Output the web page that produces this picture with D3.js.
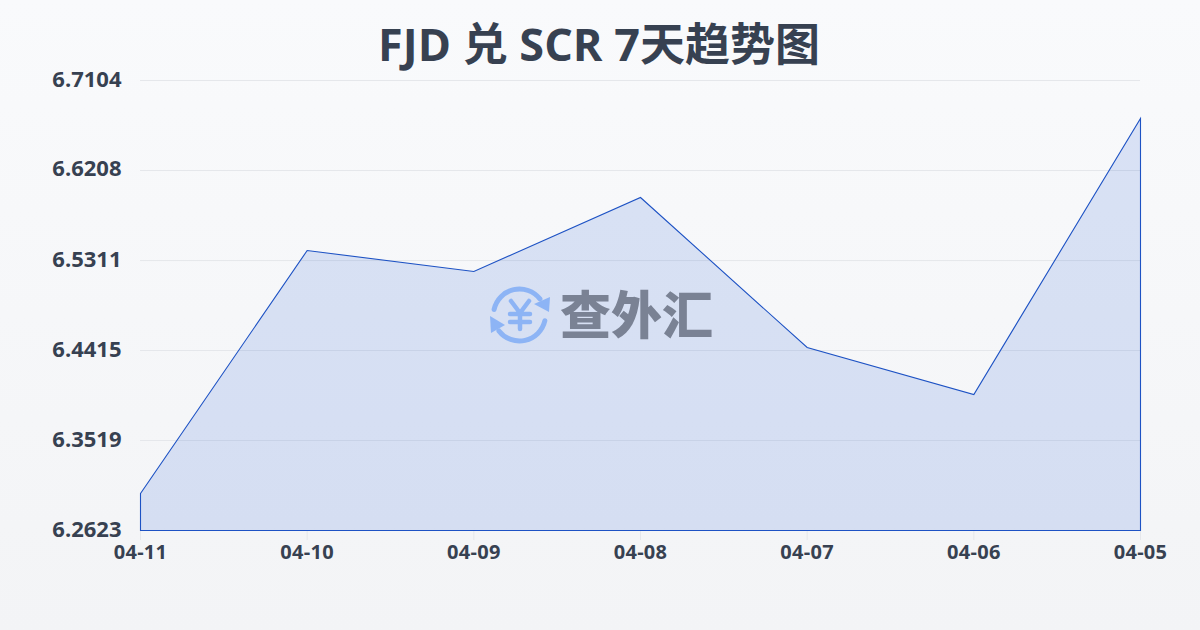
<!DOCTYPE html>
<html><head><meta charset="utf-8">
<script src="https://cdnjs.cloudflare.com/ajax/libs/d3/7.8.5/d3.min.js"></script>
<style>html,body{margin:0;padding:0;background:#f9fafb}svg{display:block}
text{font-family:"Open Sans","Noto Sans CJK SC",sans-serif}</style></head>
<body><div id="c"></div>
<script>
const titleText="FJD 兑 SCR 7天趋势图";
const dates=["04-11","04-10","04-09","04-08","04-07","04-06","04-05"];
const values=[6.2991,6.5411,6.5202,6.5939,6.4445,6.3977,6.6726];
const yTicks=[6.2623,6.3519,6.4415,6.5311,6.6208,6.7104];
const W=1200,H=630;
const svg=d3.select("#c").append("svg").attr("width",W).attr("height",H);
const defs=svg.append("defs");
const bg=defs.append("linearGradient").attr("id","bg").attr("x1",0).attr("y1",0).attr("x2",0).attr("y2",1);
bg.append("stop").attr("offset",0).attr("stop-color","#f9fafc");
bg.append("stop").attr("offset",1).attr("stop-color","#f3f4f6");
svg.append("rect").attr("width",W).attr("height",H).attr("fill","url(#bg)");
const x=d3.scalePoint().domain(dates).range([140.5,1140.5]);
const y=d3.scaleLinear().domain([6.2623,6.7104]).range([530.5,80.5]);
svg.append("g").selectAll("line").data(yTicks.slice(1)).join("line")
 .attr("x1",140).attr("x2",1140).attr("y1",d=>y(d)).attr("y2",d=>y(d))
 .attr("stroke","#e5e7eb").attr("stroke-width",1);
const area=d3.area().x((d,i)=>x(dates[i])).y0(y(6.2623)).y1(d=>y(d));
svg.append("path").datum(values).attr("d",area).attr("fill","#1f58d8").attr("fill-opacity",.14)
 .attr("stroke","#1d52c4").attr("stroke-width",1.1).attr("stroke-linejoin","miter");
svg.append("g").selectAll("line").data(dates).join("line")
 .attr("x1",d=>x(d)).attr("x2",d=>x(d)).attr("y1",531).attr("y2",540).attr("stroke","#e5e7eb");
svg.append("g").selectAll("text").data(yTicks).join("text")
 .attr("x",121.5).attr("y",d=>y(d)+6).attr("text-anchor","end")
 .attr("font-size",22).attr("font-weight",700).attr("fill","#374151").text(d=>d.toFixed(4));
svg.append("g").selectAll("text").data(dates).join("text")
 .attr("x",d=>x(d)).attr("y",559).attr("text-anchor","middle")
 .attr("font-size",20).attr("letter-spacing",.3).attr("font-weight",700).attr("fill","#374151").text(d=>d);
svg.append("text").attr("x",599).attr("y",61).attr("text-anchor","middle")
 .attr("font-size",45).attr("font-weight",700).attr("fill","#374151").text(titleText);
// watermark
const wm=svg.append("g");
const logoBlue="#8db4f5";
const cx=519.5,cy=315,r=26;
const arc=d3.arc().innerRadius(r-2.5).outerRadius(r+2.5).cornerRadius(2.5);
wm.append("path").attr("transform",`translate(${cx},${cy})`).attr("fill",logoBlue)
 .attr("d",arc({startAngle:-1.45,endAngle:1.0}));
wm.append("path").attr("transform",`translate(${cx},${cy})`).attr("fill",logoBlue)
 .attr("d",arc({startAngle:1.7,endAngle:4.15}));
wm.append("path").attr("fill",logoBlue).attr("d",d3.line()([[550,297],[549,312],[534,304]]));
wm.append("path").attr("fill",logoBlue).attr("d",d3.line()([[490,316],[505,325],[491,333]]));
wm.append("path").attr("fill","none").attr("stroke",logoBlue).attr("stroke-width",4.5).attr("stroke-linecap","round").attr("stroke-linejoin","round")
 .attr("d","M511,301L520,313L529,301M520,313V329M510,314H530M510,322H530");
wm.append("text").attr("x",560).attr("y",334).attr("font-size",51).attr("font-weight",900)
 .attr("fill","#7a8294").attr("style",'font-family:"Noto Sans CJK SC"').text("查外汇");
</script></body></html>
